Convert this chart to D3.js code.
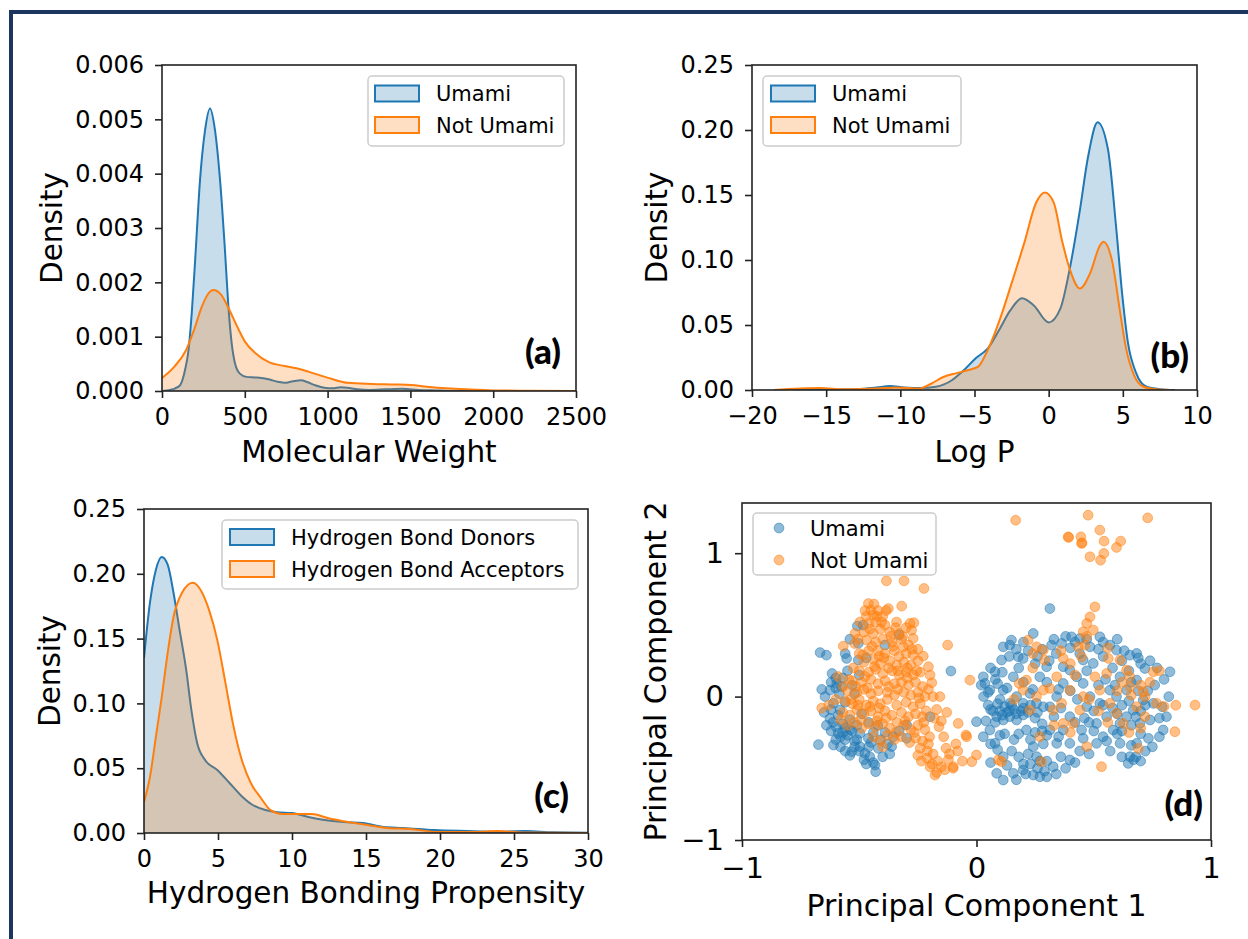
<!DOCTYPE html>
<html><head><meta charset="utf-8">
<script src="https://cdn.jsdelivr.net/npm/d3@7"></script>
<style>body{margin:0;background:#fff}svg{display:block}</style>
</head><body>
<svg id="c" width="1248" height="939"></svg>
<script>
// ---------- DATA ----------
// (a) Molecular weight KDE
const mwX = [0,50,80,110,140,160,180,200,230,260,290,320,350,380,400,420,440,470,510,560,600,650,700,740,790,840,880,930,980,1030,1080,1120,1180,1250,1350,1450,1550,1650,1800,2000,2500];
const mwUmami = [0,0.00002,0.00005,0.00011,0.0004,0.00075,0.00145,0.0024,0.0039,0.0048,0.0052,0.0048,0.0039,0.0026,0.0016,0.0009,0.00052,0.00032,0.00026,0.00025,0.00024,0.00021,0.00017,0.00015,0.00018,0.0002,0.00016,0.0001,0.00006,0.00005,0.00007,0.00006,0.00003,0.00002,0.00003,0.00004,0.00002,0.00001,0,0,0];
const mwXN = [0,72,145,193,240,287,310,358,407,455,503,563,645,740,835,930,1027,1122,1268,1408,1504,1600,1720,1838,2000,2200,2500];
const mwNotUmami = [0.00024,0.00044,0.00075,0.00112,0.00155,0.00182,0.00186,0.00177,0.00149,0.00118,0.0009,0.0007,0.00053,0.00046,0.0004,0.00031,0.00022,0.00015,0.00013,0.00012,0.00011,0.00008,0.00005,0.00003,0.00001,0.000005,0.000002];
const mwTicksX = [0,500,1000,1500,2000,2500];
const mwTicksY = [0,0.001,0.002,0.003,0.004,0.005,0.006];

// (b) Log P KDE
const lpXU = [-18,-14,-12.7,-11.6,-10.7,-9.75,-8.7,-7.6,-6.5,-5.7,-4.9,-4.1,-3.3,-2.6,-1.8,-1.0,0.0,0.8,1.45,2.1,2.65,3.3,4.0,4.55,4.95,5.35,5.9,6.6,7.5,8.5];
const lpUmami = [0,0.0003,0.0008,0.002,0.003,0.002,0.0015,0.0025,0.0077,0.0154,0.0246,0.032,0.047,0.061,0.0705,0.065,0.052,0.063,0.095,0.138,0.179,0.206,0.185,0.125,0.0745,0.036,0.013,0.0025,0.0006,0];
const lpXN = [-18.5,-15.4,-13.8,-11.6,-10.3,-8.7,-7.9,-7.1,-6.2,-5.4,-4.75,-4.1,-3.3,-2.5,-1.65,-0.85,-0.25,0.35,0.9,1.45,2.1,2.8,3.45,3.7,4.3,4.8,5.2,5.75,6.4,7.2,8.2];
const lpNotUmami = [0,0.0015,0.0006,0.0012,0.002,0.0012,0.005,0.010,0.013,0.0154,0.018,0.031,0.054,0.082,0.113,0.144,0.152,0.144,0.115,0.092,0.078,0.09,0.111,0.114,0.098,0.061,0.033,0.0115,0.0025,0.0005,0];
const lpTicksX = [-20,-15,-10,-5,0,5,10];
const lpTicksY = [0,0.05,0.10,0.15,0.20,0.25];

// (c) Hydrogen bonding KDE
const hbXD = [0,0.4,0.8,1.2,1.6,2.0,2.4,2.85,3.2,3.6,4.15,4.95,5.75,6.55,7.35,8.2,9.0,10.0,11.1,12.2,13.5,14.8,16.2,17.5,19.6,21.8,23.6,25.8,27.6,30];
const hbDonors = [0.135,0.1775,0.203,0.213,0.207,0.185,0.157,0.126,0.095,0.069,0.056,0.0486,0.039,0.029,0.0216,0.0177,0.016,0.0154,0.0123,0.01,0.0085,0.0077,0.0046,0.0039,0.0023,0.0015,0.001,0.0015,0.0005,0.0002];
const hbXA = [0,0.4,0.8,1.2,1.6,2.0,2.55,3.3,3.9,4.4,4.95,5.5,6.0,6.55,7.2,7.9,8.55,9.35,10.3,11.35,12.4,13.8,15.1,16.4,18.0,19.9,22.3,23.9,25.5,30];
const hbAcceptors = [0.024,0.043,0.074,0.105,0.139,0.167,0.185,0.193,0.186,0.172,0.149,0.116,0.085,0.0586,0.039,0.027,0.0177,0.0147,0.0147,0.0147,0.0116,0.0085,0.0062,0.0039,0.0031,0.0008,0.0008,0.0015,0.0004,0];
const hbTicksX = [0,5,10,15,20,25,30];
const hbTicksY = [0,0.05,0.10,0.15,0.20,0.25];

// (d) PCA scatter
const pcUmami = [
[-0.667,0.307],[-0.640,0.289],[-0.616,0.161],[-0.554,0.266],[-0.504,0.255],[-0.508,0.492],[-0.483,0.498],[-0.504,0.371],
[-0.646,0.000],[-0.625,0.045],[-0.596,0.092],[-0.575,0.070],[-0.610,-0.047],[-0.582,-0.094],[-0.625,-0.152],[-0.600,-0.210],[-0.590,-0.256],[-0.612,-0.180],[-0.570,-0.190],
[-0.674,-0.335],[-0.610,-0.338],[-0.532,-0.384],[-0.497,-0.349],[-0.476,-0.396],[-0.433,-0.477],[-0.430,-0.524],[-0.419,-0.361],[-0.497,-0.256],[-0.461,-0.291],[-0.539,-0.233],[-0.560,-0.300],[-0.520,-0.310],[-0.455,-0.420],[-0.480,-0.440],
[-0.362,-0.349],[-0.355,-0.280],[-0.298,-0.291],[-0.298,-0.198],[-0.330,-0.240],[-0.198,-0.140],[-0.109,0.178],
[-0.585,0.020],[-0.560,-0.040],[-0.600,0.130],[-0.550,0.180],[-0.530,0.080],[-0.620,-0.090],[-0.590,-0.130],[-0.540,-0.160],[-0.650,-0.110],[-0.600,-0.300],[-0.580,-0.350],[-0.540,-0.410],[-0.510,-0.300],
[-0.420,-0.200],[-0.390,-0.250],[-0.410,-0.300],[-0.370,-0.400],[-0.440,-0.250],[-0.460,-0.180],[-0.490,-0.120],
[-0.390,0.360],[-0.330,0.430],[-0.540,0.400],
[-0.570,-0.250],[-0.550,-0.270],[-0.530,-0.240],[-0.510,-0.200],[-0.560,-0.220],[-0.620,-0.240],[-0.640,-0.200],[-0.580,-0.280],[-0.500,-0.380],[-0.460,-0.350],[-0.440,-0.460],[-0.470,-0.470],[-0.600,0.060],[-0.620,0.100],[-0.570,0.130],[-0.520,0.020],[-0.500,0.150],[-0.660,0.050],[-0.560,0.300],[-0.470,0.270],[-0.450,-0.320],[-0.520,-0.350],[-0.560,-0.380],[-0.400,-0.420],[-0.380,-0.330],
[0.000,-0.175],[0.029,0.138],[0.036,0.092],[0.079,0.173],[0.057,0.045],[0.114,0.045],[0.130,0.060],[0.114,0.347],[0.142,0.359],[0.149,0.394],[0.107,0.255],[0.178,0.278],[0.199,0.266],[0.242,0.440],[0.313,0.614],[0.320,0.359],[0.363,0.371],[0.405,0.417],[0.441,0.405],[0.484,0.347],[0.526,0.417],[0.569,0.359],[0.597,0.324],[0.654,0.289],[0.683,0.301],[0.718,0.196],[0.825,0.173],[0.792,-0.071],[0.796,-0.233],[0.733,-0.291],[0.654,-0.419],[0.647,-0.466],[0.670,-0.440],[0.612,-0.326],[0.540,-0.280],[0.555,-0.310],[0.455,-0.291],[0.398,-0.326],[0.398,-0.442],[0.327,-0.489],[0.270,-0.559],[0.242,-0.547],[0.199,-0.512],[0.157,-0.535],[0.114,-0.582],[0.086,-0.535],[0.114,-0.419],[0.079,-0.326],[0.090,-0.370],[0.060,-0.330],[0.029,-0.280],[0.057,-0.233],[0.086,-0.140],[0.114,-0.163],[0.142,-0.140],[0.171,-0.163],[0.199,-0.128],[0.213,-0.233],[0.242,-0.349],[0.256,-0.419],[0.285,-0.330],[0.313,-0.233],[0.342,-0.326],[0.370,-0.233],[0.398,-0.140],[0.448,-0.233],[0.512,-0.187],[0.555,-0.140],[0.583,-0.233],[0.612,-0.187],[0.640,-0.140],[0.668,-0.094],[0.697,-0.187],[0.740,-0.163],[0.754,-0.047],[0.730,0.040],[0.683,0.115],[0.640,0.045],[0.597,0.000],[0.569,0.045],[0.526,-0.047],[0.484,0.000],[0.455,0.092],[0.427,0.138],[0.398,0.185],[0.370,0.092],[0.342,0.000],[0.313,-0.071],[0.285,-0.071],[0.256,-0.047],[0.228,0.022],[0.199,-0.047],[0.171,0.000],[0.142,-0.047],[0.157,0.138],[0.270,0.138],[0.299,0.208],[0.370,0.208],[0.455,0.255],[0.498,0.231],[0.612,0.138],[0.711,-0.024],[0.683,-0.326],[0.512,-0.326],
[0.100,-0.100],[0.130,-0.110],[0.160,-0.090],[0.190,-0.100],[0.220,-0.110],[0.120,-0.070],[0.070,-0.100],[0.050,-0.060],[0.250,-0.150],[0.280,-0.190],[0.300,-0.270],[0.230,-0.300],[0.250,-0.250],[0.220,-0.400],[0.230,-0.470],[0.260,-0.500],[0.290,-0.520],[0.300,-0.450],[0.210,-0.540],[0.180,-0.420],[0.150,-0.380],[0.160,-0.300],[0.120,-0.260],[0.040,-0.170],[0.060,-0.090],
[0.580,-0.080],[0.600,-0.120],[0.620,-0.060],[0.650,-0.030],[0.680,-0.140],[0.700,-0.100],[0.720,-0.060],[0.660,-0.200],[0.600,-0.260],[0.700,-0.260],[0.720,-0.380],[0.680,-0.420],[0.540,-0.060],[0.500,-0.100],[0.470,-0.070],[0.430,-0.020],[0.400,0.040],[0.350,0.050],[0.330,-0.140],[0.360,-0.080],[0.420,-0.180],[0.460,-0.150],[0.520,0.080],[0.550,0.120],[0.580,0.200],[0.620,0.250],[0.650,0.180],[0.700,0.230],[0.770,0.200],[0.760,0.080],[0.780,-0.150],[0.600,0.400],[0.520,0.330],[0.440,0.300],[0.400,0.340],[0.340,0.300],[0.280,0.330],[0.200,0.380],[0.250,0.230],[0.300,0.100],[0.200,0.100],[0.180,0.200],[0.080,0.120],[0.100,-0.020],[0.030,0.000],[0.240,0.050],[0.470,0.180],[0.540,0.280],[0.660,0.100],[0.810,-0.140],[0.500,-0.240],[0.440,-0.380],[0.360,-0.420],[0.380,-0.500],[0.300,-0.560],[0.170,-0.580],
[0.080,-0.180],[0.110,-0.130],[0.140,-0.100],[0.170,-0.120],[0.200,-0.080],[0.230,-0.060],[0.260,-0.110],[0.150,-0.060],[0.090,-0.050],[0.050,0.030],[0.020,0.080],[0.090,0.090],[0.110,0.170],[0.060,0.200],[0.140,0.280],[0.170,0.330],[0.220,0.320],[0.260,0.280],[0.310,0.250],[0.330,0.400],[0.380,0.420],[0.420,0.380],[0.470,0.400],[0.540,0.380],[0.630,0.320],[0.690,0.270],[0.740,0.250],[0.800,0.120],[0.820,0.000],[0.780,-0.280],[0.750,-0.350],[0.700,-0.450],[0.620,-0.420],[0.570,-0.380],[0.480,-0.400],[0.420,-0.460],[0.340,-0.540],[0.270,-0.450],[0.200,-0.470],[0.130,-0.480],[0.060,-0.460],[0.100,-0.270],[0.180,-0.260],[0.280,-0.240],[0.350,-0.280],[0.480,-0.180],[0.620,-0.240],[0.660,-0.340],[0.590,0.080],[0.690,0.040]
];
const pcNotUmami = [
[0.167,1.230],[0.476,1.265],[0.730,1.246],[0.391,1.114],[0.393,1.110],[0.445,1.114],[0.448,1.068],[0.450,1.072],[0.526,1.161],[0.544,1.084],[0.615,1.084],[0.597,1.040],[0.543,0.998],[0.484,0.975],[0.529,0.951],
[-0.384,0.807],[-0.309,0.807],[-0.224,0.754],[-0.319,0.631],
[-0.461,0.649],[-0.437,0.645],[-0.451,0.603],[-0.420,0.600],[-0.376,0.614],[-0.470,0.560],[-0.440,0.570],[-0.400,0.560],[-0.497,0.520],[-0.460,0.510],[-0.430,0.520],[-0.390,0.500],[-0.341,0.520],[-0.284,0.510],[-0.267,0.515],[-0.518,0.440],[-0.480,0.450],[-0.440,0.440],[-0.410,0.470],[-0.370,0.450],[-0.330,0.440],[-0.300,0.480],[-0.277,0.463],[-0.270,0.405],[-0.568,0.352],[-0.520,0.370],[-0.469,0.394],[-0.430,0.380],[-0.400,0.400],[-0.360,0.380],[-0.320,0.400],[-0.290,0.360],[-0.312,0.347],[-0.500,0.300],[-0.460,0.320],[-0.420,0.320],[-0.390,0.300],[-0.350,0.320],[-0.330,0.280],[-0.300,0.300],[-0.270,0.290],[-0.250,0.330],[-0.227,0.282],[-0.480,0.240],[-0.440,0.260],[-0.410,0.230],[-0.370,0.250],[-0.340,0.220],[-0.310,0.240],[-0.280,0.220],[-0.250,0.250],[-0.205,0.208],[-0.500,0.180],[-0.460,0.170],[-0.430,0.190],[-0.400,0.160],[-0.360,0.180],[-0.330,0.150],[-0.300,0.170],[-0.270,0.150],[-0.240,0.170],[-0.198,0.150],[-0.530,0.110],[-0.490,0.100],[-0.450,0.120],[-0.420,0.090],[-0.390,0.110],[-0.350,0.090],[-0.320,0.100],[-0.290,0.080],[-0.260,0.100],[-0.230,0.070],[-0.191,0.096],[-0.550,0.040],[-0.510,0.030],[-0.480,0.050],[-0.450,0.020],[-0.420,0.040],[-0.380,0.030],[-0.350,0.010],[-0.310,0.030],[-0.280,0.010],[-0.250,0.030],[-0.220,0.000],[-0.560,-0.030],[-0.530,-0.050],[-0.500,-0.020],[-0.470,-0.060],[-0.440,-0.030],[-0.410,-0.050],[-0.380,-0.020],[-0.340,-0.060],[-0.300,-0.040],[-0.270,-0.070],[-0.240,-0.050],[-0.570,-0.110],[-0.540,-0.130],[-0.510,-0.090],[-0.480,-0.120],[-0.450,-0.100],[-0.420,-0.140],[-0.390,-0.100],[-0.360,-0.130],[-0.320,-0.110],[-0.290,-0.140],[-0.260,-0.120],[-0.230,-0.140],[-0.550,-0.200],[-0.520,-0.180],[-0.490,-0.220],[-0.460,-0.190],[-0.430,-0.210],[-0.400,-0.190],[-0.370,-0.220],[-0.340,-0.180],[-0.310,-0.200],[-0.280,-0.230],[-0.250,-0.200],[-0.220,-0.230],[-0.440,-0.280],[-0.410,-0.310],[-0.380,-0.270],[-0.350,-0.300],[-0.320,-0.280],[-0.260,-0.290],[-0.230,-0.310],[-0.200,-0.280],[-0.400,-0.350],[-0.240,-0.360],[-0.210,-0.380],[-0.250,-0.410],[-0.210,-0.430],[-0.190,-0.470],[-0.170,-0.530],[-0.150,-0.490],[-0.120,-0.440],[-0.100,-0.500],[-0.080,-0.380],[-0.177,-0.547],[-0.198,-0.489],[-0.099,-0.489],[-0.156,0.000],[-0.127,-0.110],[-0.078,-0.187],[-0.045,-0.268],[-0.088,-0.330],[-0.028,0.115],[-0.123,0.359],[-0.660,-0.080],[-0.630,-0.060],[-0.590,0.140],[-0.570,0.070],[-0.600,-0.020],[-0.580,-0.160],[-0.160,-0.210],[-0.140,-0.280],[-0.180,-0.150],[-0.130,-0.360],[-0.060,-0.450],
[-0.535,-0.020],[-0.515,0.070],[-0.495,-0.160],[-0.475,0.140],[-0.455,-0.070],[-0.435,0.210],[-0.415,-0.080],[-0.395,0.270],[-0.375,0.070],[-0.355,0.350],[-0.335,0.050],[-0.315,0.420],[-0.295,0.130],[-0.275,0.330],[-0.455,0.470],[-0.425,0.560],[-0.475,0.600],[-0.505,0.400],[-0.485,0.290],[-0.525,0.200],[-0.545,0.120],[-0.505,-0.060],[-0.465,0.060],[-0.425,-0.170],[-0.385,-0.150],[-0.345,-0.250],[-0.305,-0.170],[-0.265,-0.250],[-0.285,-0.320],[-0.225,-0.180],[-0.215,-0.100],[-0.205,-0.330],[-0.185,-0.400],[-0.165,-0.450],[-0.135,-0.510],[-0.115,-0.400],[-0.235,-0.450],[-0.365,0.420],[-0.345,0.480],[-0.405,0.520],[-0.385,0.600],[-0.445,0.350],[-0.415,0.280],[-0.375,0.200],[-0.335,0.180],[-0.295,0.200],[-0.255,0.180],[-0.245,-0.010],[-0.205,0.050],[-0.185,0.000],[-0.170,-0.090],[-0.150,-0.170],
[0.220,0.394],[0.256,0.347],[0.285,0.324],[0.240,0.300],[0.290,0.255],[0.370,0.266],[0.434,0.347],[0.448,0.278],[0.498,0.464],[0.505,0.626],[0.484,0.556],[0.470,0.510],[0.455,0.452],[0.462,0.359],[0.562,0.266],[0.612,0.255],[0.640,0.185],[0.654,0.138],[0.711,0.034],[0.718,-0.001],[0.754,0.173],[0.768,-0.047],[0.932,-0.059],[0.846,-0.245],[0.718,-0.140],[0.690,-0.361],[0.533,-0.489],[0.470,-0.349],[0.413,-0.187],[0.363,-0.047],[0.327,-0.094],[0.285,0.045],[0.256,0.000],[0.228,-0.094],[0.199,0.045],[0.182,0.092],[0.213,0.115],[0.270,-0.280],[0.277,-0.454],[0.107,-0.454],[0.093,-0.442],[0.000,-0.407],[-0.020,-0.454],[-0.042,-0.280],[0.370,-0.187],[0.455,0.000],[0.526,0.045],[0.569,-0.047],[0.597,-0.117],[0.626,-0.187],[0.654,0.068],[0.683,-0.071],[0.398,0.045],[0.441,-0.094],[0.505,0.138],[0.555,0.161],[0.342,0.138],[0.313,0.057],[0.620,0.100],[0.660,0.010],[0.600,0.040],[0.700,0.080],[0.740,0.100],[0.800,-0.070],[0.850,-0.060],[0.780,0.180],[0.400,0.230],[0.420,0.150],[0.480,-0.020],[0.520,-0.100],[0.560,-0.180],[0.650,-0.250],[0.400,-0.250],[0.330,-0.200],[0.470,0.420],[0.560,0.340],[0.160,-0.020],[0.240,0.200],[0.360,0.320],[0.700,-0.220]
];
const pcTicks = [-1,0,1];

// ---------- DRAW ----------
const svg = d3.select("#c");
const FONT = "DejaVu Sans";
const BLUE = "#1f77b4", ORANGE = "#ff7f0e";

svg.append("rect").attr("x",9).attr("y",10).attr("width",1239).attr("height",4).attr("fill","#1c355e");
svg.append("rect").attr("x",9).attr("y",10).attr("width",4).attr("height",929).attr("fill","#1c355e");

function makeAxes(o){
  const x = d3.scaleLinear().domain(o.xd).range([o.l,o.r]);
  const y = d3.scaleLinear().domain(o.yd).range([o.b,o.t]);
  const g = svg.append("g");
  const id = "clip"+o.id;
  svg.append("clipPath").attr("id",id).append("rect")
    .attr("x",o.l).attr("y",o.t).attr("width",o.r-o.l).attr("height",o.b-o.t);
  const plot = g.append("g").attr("clip-path",`url(#${id})`);
  return {x,y,g,plot};
}

function finishAxes(A,o){
  const {x,y,g} = A;
  g.append("rect").attr("x",o.l).attr("y",o.t).attr("width",o.r-o.l).attr("height",o.b-o.t)
    .attr("fill","none").attr("stroke","#222").attr("stroke-width",1.6);
  const ax = g.append("g").attr("transform",`translate(0,${o.b})`)
    .call(d3.axisBottom(x).tickValues(o.xt).tickFormat(o.xf).tickSize(7).tickPadding(10));
  const ay = g.append("g").attr("transform",`translate(${o.l},0)`)
    .call(d3.axisLeft(y).tickValues(o.yt).tickFormat(o.yf).tickSize(7).tickPadding(11));
  [ax,ay].forEach(a=>{
    a.select(".domain").remove();
    a.attr("font-family",null).attr("font-size",null);
    a.selectAll("line").attr("stroke","#222").attr("stroke-width",1.6);
    a.selectAll("text").attr("font-family",FONT).attr("font-size",o.tfs).attr("fill","#000");
  });
  g.append("text").attr("x",(o.l+o.r)/2).attr("y",o.xly).attr("text-anchor","middle")
    .attr("font-family",FONT).attr("font-size",o.lfs).attr("fill","#000").text(o.xl);
  g.append("text").attr("transform",`translate(${o.ylx},${(o.t+o.b)/2}) rotate(-90)`)
    .attr("text-anchor","middle").attr("font-family",FONT).attr("font-size",o.lfs).attr("fill","#000").text(o.yl);
  g.append("text").attr("x",o.tagx).attr("y",o.tagy).attr("text-anchor","end")
    .attr("font-family","Lato, 'Open Sans', sans-serif").attr("font-weight",900).attr("font-size",35)
    .attr("fill","#000").text(o.tag);
}

function drawKDE(A, xs, ys, color){
  const pts = xs.map((v,i)=>[v,ys[i]]);
  A.plot.append("path").datum(pts)
    .attr("d", d3.area().x(d=>A.x(d[0])).y0(A.y(0)).y1(d=>A.y(d[1])).curve(d3.curveMonotoneX))
    .attr("fill",color).attr("fill-opacity",0.25).attr("stroke","none");
  A.plot.append("path").datum(pts)
    .attr("d", d3.line().x(d=>A.x(d[0])).y(d=>A.y(d[1])).curve(d3.curveMonotoneX))
    .attr("fill","none").attr("stroke",color).attr("stroke-width",2);
}

function legendBox(g, bx, by, bw, bh){
  g.append("rect").attr("x",bx).attr("y",by).attr("width",bw).attr("height",bh).attr("rx",4)
    .attr("fill","#fff").attr("fill-opacity",0.8).attr("stroke","#cccccc").attr("stroke-width",1.5);
}
function legendPatches(g, px, tx, cys, labels, colors){
  cys.forEach((cy,i)=>{
    g.append("rect").attr("x",px).attr("y",cy-8).attr("width",44).attr("height",16)
      .attr("fill",colors[i]).attr("fill-opacity",0.25).attr("stroke",colors[i]).attr("stroke-width",2);
    g.append("text").attr("x",tx).attr("y",cy+7.7).attr("font-family",FONT).attr("font-size",21)
      .attr("fill","#000").text(labels[i]);
  });
}

const f3 = d3.format(".3f"), f2 = d3.format(".2f"), fd = d3.format("d");

// (a)
const oa = {id:"a", l:162, r:576, t:65, b:391, xd:[0,2500], yd:[0,0.006], xt:mwTicksX, yt:mwTicksY,
  xf:fd, yf:f3, tfs:24, lfs:29.5, xl:"Molecular Weight", yl:"Density", xly:462, ylx:61.5,
  tag:"(a)", tagx:561, tagy:364};
const A = makeAxes(oa);
drawKDE(A, mwX, mwUmami, BLUE);
drawKDE(A, mwXN, mwNotUmami, ORANGE);
finishAxes(A, oa);
legendBox(A.g, 368, 76, 196, 70);
legendPatches(A.g, 375, 436, [93.5,125], ["Umami","Not Umami"], [BLUE,ORANGE]);

// (b)
const ob = {id:"b", l:752, r:1197, t:65, b:390, xd:[-20,10], yd:[0,0.25], xt:lpTicksX, yt:lpTicksY,
  xf:fd, yf:f2, tfs:24, lfs:29.5, xl:"Log P", yl:"Density", xly:462, ylx:667,
  tag:"(b)", tagx:1189, tagy:368};
const B = makeAxes(ob);
drawKDE(B, lpXU, lpUmami, BLUE);
drawKDE(B, lpXN, lpNotUmami, ORANGE);
finishAxes(B, ob);
legendBox(B.g, 763, 76, 198, 70);
legendPatches(B.g, 771, 832, [93.5,125], ["Umami","Not Umami"], [BLUE,ORANGE]);

// (c)
const oc = {id:"c", l:144, r:588, t:509, b:833, xd:[0,30], yd:[0,0.25], xt:hbTicksX, yt:hbTicksY,
  xf:fd, yf:f2, tfs:24, lfs:29.5, xl:"Hydrogen Bonding Propensity", yl:"Density", xly:903, ylx:59.5,
  tag:"(c)", tagx:569, tagy:808};
const C = makeAxes(oc);
drawKDE(C, hbXD, hbDonors, BLUE);
drawKDE(C, hbXA, hbAcceptors, ORANGE);
finishAxes(C, oc);
legendBox(C.g, 222, 520, 356, 69);
legendPatches(C.g, 230, 291, [537,569], ["Hydrogen Bond Donors","Hydrogen Bond Acceptors"], [BLUE,ORANGE]);

// (d)
const od = {id:"d", l:742, r:1211, t:503, b:840, xd:[-1,1], yd:[-1,1.35], xt:pcTicks, yt:pcTicks,
  xf:fd, yf:fd, tfs:29, lfs:30, xl:"Principal Component 1", yl:"Principal Component 2", xly:916, ylx:666,
  tag:"(d)", tagx:1203, tagy:816};
const D = makeAxes(od);
[[pcUmami,BLUE],[pcNotUmami,ORANGE]].forEach(([pts,col])=>{
  D.plot.append("g").selectAll("circle").data(pts).join("circle")
    .attr("cx",d=>D.x(d[0])).attr("cy",d=>D.y(d[1])).attr("r",4.9)
    .attr("fill",col).attr("fill-opacity",0.5).attr("stroke",col).attr("stroke-opacity",0.5).attr("stroke-width",1);
});
finishAxes(D, od);
legendBox(D.g, 753, 513, 183, 62);
[[528,"Umami",BLUE],[560,"Not Umami",ORANGE]].forEach(([cy,lab,col])=>{
  D.g.append("circle").attr("cx",779).attr("cy",cy).attr("r",4.9)
    .attr("fill",col).attr("fill-opacity",0.5).attr("stroke",col).attr("stroke-opacity",0.5).attr("stroke-width",1);
  D.g.append("text").attr("x",810).attr("y",cy+7.7).attr("font-family",FONT).attr("font-size",21).attr("fill","#000").text(lab);
});
</script>
</body></html>
